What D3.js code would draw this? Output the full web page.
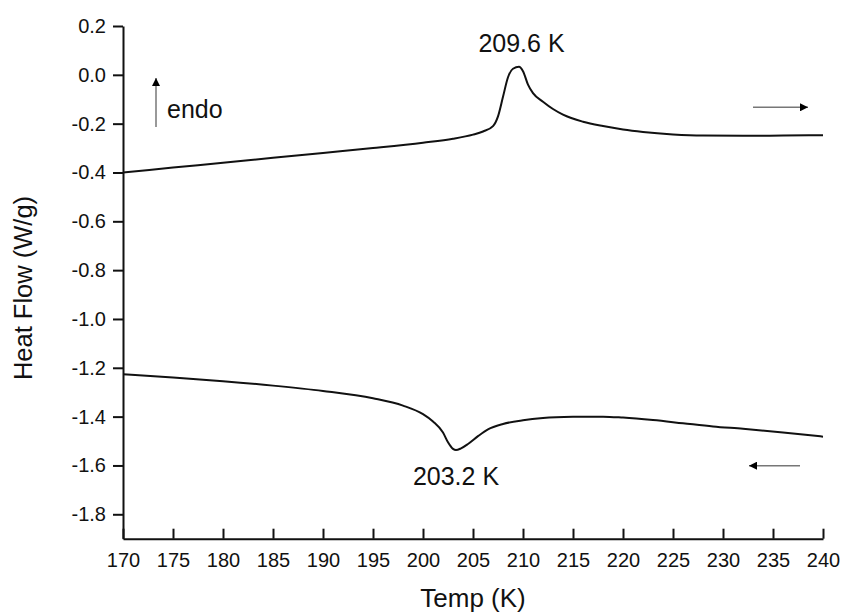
<!DOCTYPE html>
<html>
<head>
<meta charset="utf-8">
<script src="https://cdn.jsdelivr.net/npm/d3@7/dist/d3.min.js"></script>
<style>
  html, body { margin: 0; padding: 0; background: #fff; }
  svg { display: block; font-family: "Liberation Sans", Arial, sans-serif; }
</style>
</head>
<body>
<svg id="chart" width="841" height="613"></svg>
<script>
// ---- data ----
const heatingT = [170, 175, 180, 185, 190, 195, 200, 203, 205, 206, 207, 207.5, 208, 208.5, 209, 209.6, 210, 210.5, 211, 212, 213, 214, 216, 218, 220, 222, 225, 228, 232, 236, 240];
const heatingHF = [-0.400, -0.380, -0.360, -0.340, -0.320, -0.300, -0.278, -0.262, -0.245, -0.232, -0.210, -0.170, -0.090, -0.010, 0.025, 0.033, 0.015, -0.040, -0.075, -0.110, -0.140, -0.163, -0.192, -0.210, -0.224, -0.234, -0.244, -0.249, -0.250, -0.249, -0.247];
const coolingT = [170, 175, 180, 185, 190, 195, 198, 200, 201, 202, 202.5, 203, 203.3, 203.8, 204.5, 205.5, 206.5, 208, 210, 212, 215, 218, 220, 223, 226, 229, 232, 236, 240];
const coolingHF = [-1.226, -1.240, -1.255, -1.273, -1.295, -1.325, -1.355, -1.390, -1.420, -1.465, -1.505, -1.532, -1.537, -1.530, -1.512, -1.480, -1.452, -1.430, -1.415, -1.406, -1.401, -1.400, -1.404, -1.414, -1.427, -1.440, -1.450, -1.465, -1.482];
const xTicks = [170, 175, 180, 185, 190, 195, 200, 205, 210, 215, 220, 225, 230, 235, 240];
const yTicks = [0.2, 0.0, -0.2, -0.4, -0.6, -0.8, -1.0, -1.2, -1.4, -1.6, -1.8];
const yTickLabels = ["0.2", "0.0", "-0.2", "-0.4", "-0.6", "-0.8", "-1.0", "-1.2", "-1.4", "-1.6", "-1.8"];
const xDomain = [170, 240];
const yDomain = [-1.9, 0.2];
const peakLabels = [
  { t: 209.85, v: 0.0935, text: "209.6 K" },
  { t: 203.3, v: -1.680, text: "203.2 K" }
];

// ---- chart ----
const svg = d3.select("#chart");
const x = d3.scaleLinear().domain(xDomain).range([123, 823]);
const y = d3.scaleLinear().domain(yDomain).range([538.7, 26]);

svg.append("defs").append("marker")
  .attr("id", "head")
  .attr("viewBox", "0 0 10 10")
  .attr("refX", 10).attr("refY", 5)
  .attr("markerUnits", "userSpaceOnUse")
  .attr("markerWidth", 14).attr("markerHeight", 8)
  .attr("orient", "auto")
  .append("path").attr("d", "M0,0 L10,5 L0,10 Z").attr("fill", "#000");

// x axis
const xAxis = d3.axisBottom(x)
  .tickValues(xTicks)
  .tickFormat(d3.format("d"))
  .tickSizeInner(-10).tickSizeOuter(0).tickPadding(14);
const gx = svg.append("g").attr("transform", `translate(0,${y(yDomain[0])})`).call(xAxis);

// y axis
const yAxis = d3.axisLeft(y)
  .tickValues(yTicks)
  .tickFormat((d, i) => yTickLabels[i])
  .tickSizeInner(10).tickSizeOuter(0).tickPadding(7);
const gy = svg.append("g").attr("transform", `translate(${x(xDomain[0])},0)`).call(yAxis);

[gx, gy].forEach(g => {
  g.select(".domain").attr("stroke", "#111").attr("stroke-width", 2);
  g.selectAll(".tick line").attr("stroke", "#111").attr("stroke-width", 2);
  g.selectAll(".tick text").attr("fill", "#111").style("font-size", "20px")
    .style("font-family", "'Liberation Sans', Arial, sans-serif");
});

// axis titles
svg.append("text")
  .attr("x", (x.range()[0] + x.range()[1]) / 2).attr("y", 606.5)
  .attr("text-anchor", "middle").attr("fill", "#111")
  .style("font-size", "26px").text("Temp (K)");
svg.append("text")
  .attr("transform", `translate(32,288) rotate(-90)`)
  .attr("text-anchor", "middle").attr("fill", "#111")
  .style("font-size", "25.5px").text("Heat Flow (W/g)");

// curves
const line = d3.line().x(d => x(d[0])).y(d => y(d[1])).curve(d3.curveMonotoneX);
svg.append("path")
  .datum(heatingT.map((t, i) => [t, heatingHF[i]]))
  .attr("d", line).attr("fill", "none").attr("stroke", "#111").attr("stroke-width", 2);
svg.append("path")
  .datum(coolingT.map((t, i) => [t, coolingHF[i]]))
  .attr("d", line).attr("fill", "none").attr("stroke", "#111").attr("stroke-width", 2);

// peak labels
peakLabels.forEach(p => {
  svg.append("text")
    .attr("x", x(p.t)).attr("y", y(p.v))
    .attr("text-anchor", "middle").attr("fill", "#111")
    .style("font-size", "25px").text(p.text);
});

// endo arrow + label
svg.append("line")
  .attr("x1", x(173.3)).attr("x2", x(173.3))
  .attr("y1", y(-0.214)).attr("y2", y(-0.013))
  .attr("stroke", "#777").attr("stroke-width", 1.5)
  .attr("marker-end", "url(#head)");
svg.append("text")
  .attr("x", x(174.4)).attr("y", y(-0.178))
  .attr("fill", "#111").style("font-size", "25px").text("endo");

// direction arrows
svg.append("line")
  .attr("x1", x(233.0)).attr("x2", x(238.5))
  .attr("y1", y(-0.133)).attr("y2", y(-0.133))
  .attr("stroke", "#777").attr("stroke-width", 1.5)
  .attr("marker-end", "url(#head)");
svg.append("line")
  .attr("x1", x(237.7)).attr("x2", x(232.6))
  .attr("y1", y(-1.601)).attr("y2", y(-1.601))
  .attr("stroke", "#777").attr("stroke-width", 1.5)
  .attr("marker-end", "url(#head)");
</script>
</body>
</html>
